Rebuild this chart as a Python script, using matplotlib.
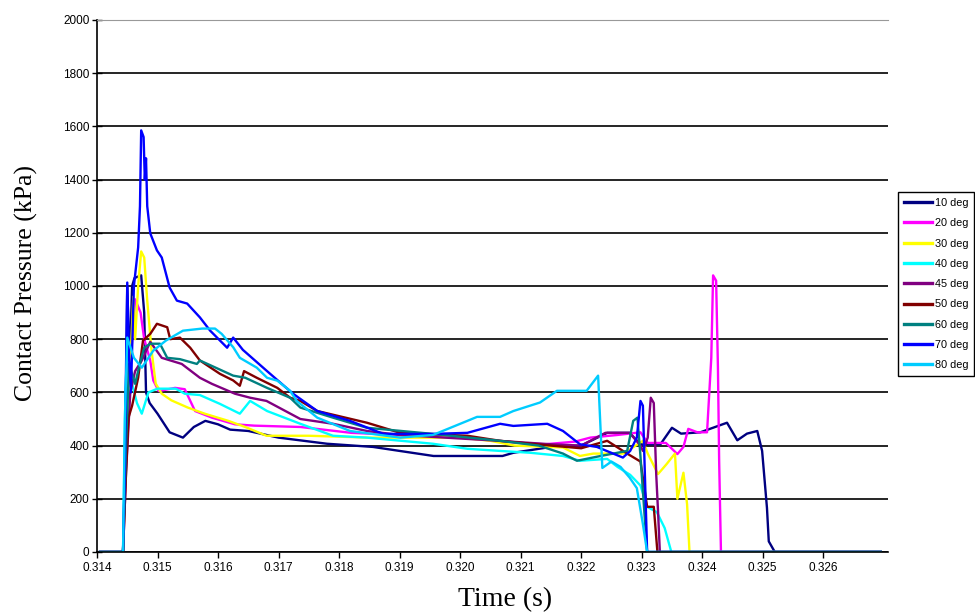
import numpy as np
import matplotlib
matplotlib.use("Agg")
import matplotlib.pyplot as plt
from matplotlib.ticker import FormatStrFormatter

# (time in s, contact pressure in kPa)
deg10 = [(0.31405, 0), (0.31443, 0), (0.31447, 400), (0.31450, 1000), (0.31454, 700),
         (0.31458, 1000), (0.31462, 1030), (0.31473, 1040), (0.31478, 900), (0.31481, 600),
         (0.31487, 560), (0.31500, 520), (0.31520, 450), (0.31542, 430), (0.31560, 470),
         (0.31579, 493), (0.31600, 480), (0.31620, 460), (0.31650, 455), (0.31700, 430),
         (0.31780, 407), (0.31856, 395), (0.31900, 380), (0.31956, 361), (0.32070, 361),
         (0.32088, 373), (0.32150, 395), (0.32200, 400), (0.32243, 448), (0.32280, 448),
         (0.32298, 405), (0.32331, 405), (0.32350, 467), (0.32365, 445), (0.32397, 450),
         (0.32441, 486), (0.32458, 420), (0.32474, 445), (0.32491, 455), (0.32499, 380),
         (0.32507, 166), (0.32510, 40), (0.32520, 0), (0.32695, 0)]
deg20 = [(0.31405, 0), (0.31443, 0), (0.31448, 500), (0.31455, 700), (0.31463, 950),
         (0.31472, 900), (0.31478, 800), (0.31488, 720), (0.31493, 645), (0.31502, 605),
         (0.31529, 617), (0.31545, 612), (0.31562, 530), (0.31590, 505), (0.31628, 480),
         (0.31660, 475), (0.31736, 470), (0.31820, 448), (0.31900, 440), (0.32000, 430),
         (0.32100, 410), (0.32140, 405), (0.32190, 415), (0.32215, 430), (0.32260, 440),
         (0.32298, 450), (0.32310, 410), (0.32340, 410), (0.32359, 368), (0.32369, 395),
         (0.32377, 463), (0.32392, 450), (0.32408, 450), (0.32411, 570), (0.32415, 730),
         (0.32418, 1040), (0.32423, 1020), (0.32426, 693), (0.32428, 343), (0.32431, 0),
         (0.32695, 0)]
deg30 = [(0.31405, 0), (0.31443, 0), (0.31448, 400), (0.31455, 700), (0.31460, 960),
         (0.31463, 800), (0.31468, 1000), (0.31473, 1130), (0.31478, 1107), (0.31483, 945),
         (0.31490, 760), (0.31497, 633), (0.31507, 595), (0.31523, 570), (0.31550, 543),
         (0.31578, 520), (0.31617, 493), (0.31645, 470), (0.31680, 437), (0.31750, 437),
         (0.31850, 430), (0.32000, 430), (0.32050, 418), (0.32090, 400), (0.32170, 393),
         (0.32198, 361), (0.32220, 370), (0.32270, 370), (0.32302, 418), (0.32310, 370),
         (0.32327, 293), (0.32341, 330), (0.32355, 370), (0.32359, 200), (0.32369, 298),
         (0.32375, 180), (0.32379, 0), (0.32695, 0)]
deg40 = [(0.31405, 0), (0.31443, 0), (0.31447, 600), (0.31450, 790), (0.31456, 650),
         (0.31466, 560), (0.31474, 520), (0.31485, 600), (0.31500, 614), (0.31530, 614),
         (0.31545, 595), (0.31570, 590), (0.31603, 557), (0.31636, 520), (0.31653, 568),
         (0.31681, 530), (0.31736, 482), (0.31790, 437), (0.31846, 430), (0.31955, 407),
         (0.32012, 388), (0.32066, 380), (0.32116, 373), (0.32170, 361), (0.32198, 343),
         (0.32243, 350), (0.32260, 320), (0.32281, 290), (0.32298, 250), (0.32309, 170),
         (0.32325, 150), (0.32338, 90), (0.32349, 0), (0.32695, 0)]
deg45 = [(0.31405, 0), (0.31443, 0), (0.31448, 300), (0.31455, 600), (0.31463, 680),
         (0.31474, 720), (0.31488, 790), (0.31507, 730), (0.31540, 707), (0.31570, 655),
         (0.31590, 632), (0.31628, 595), (0.31653, 580), (0.31680, 568), (0.31736, 500),
         (0.31790, 482), (0.31846, 455), (0.31900, 440), (0.32050, 420), (0.32150, 405),
         (0.32200, 400), (0.32240, 448), (0.32280, 448), (0.32298, 400), (0.32302, 380),
         (0.32310, 430), (0.32315, 580), (0.32320, 560), (0.32324, 293), (0.32327, 154),
         (0.32330, 0), (0.32695, 0)]
deg50 = [(0.31405, 0), (0.31443, 0), (0.31448, 300), (0.31452, 505), (0.31458, 550),
         (0.31468, 655), (0.31476, 795), (0.31488, 820), (0.31499, 858), (0.31516, 845),
         (0.31521, 800), (0.31537, 806), (0.31554, 768), (0.31570, 720), (0.31603, 670),
         (0.31625, 645), (0.31636, 625), (0.31643, 680), (0.31664, 655), (0.31698, 617),
         (0.31719, 580), (0.31736, 568), (0.31764, 530), (0.31846, 486), (0.31901, 448),
         (0.32012, 437), (0.32066, 418), (0.32150, 400), (0.32200, 390), (0.32243, 418),
         (0.32276, 370), (0.32298, 340), (0.32309, 170), (0.32320, 170), (0.32326, 0),
         (0.32695, 0)]
deg60 = [(0.31405, 0), (0.31443, 0), (0.31448, 400), (0.31453, 707), (0.31463, 632),
         (0.31470, 700), (0.31478, 768), (0.31488, 783), (0.31504, 783), (0.31516, 730),
         (0.31537, 725), (0.31565, 707), (0.31570, 720), (0.31625, 663), (0.31645, 655),
         (0.31681, 617), (0.31719, 580), (0.31736, 543), (0.31790, 505), (0.31846, 467),
         (0.31955, 444), (0.32066, 418), (0.32130, 400), (0.32170, 370), (0.32193, 343),
         (0.32230, 360), (0.32276, 380), (0.32286, 493), (0.32293, 505), (0.32298, 360),
         (0.32309, 0), (0.32695, 0)]
deg70 = [(0.31405, 0), (0.31443, 0), (0.31446, 300), (0.31448, 700), (0.31450, 1013),
         (0.31453, 730), (0.31456, 600), (0.31461, 1000), (0.31468, 1145), (0.31471, 1300),
         (0.31473, 1585), (0.31477, 1560), (0.31479, 1400), (0.31481, 1480), (0.31483, 1300),
         (0.31488, 1198), (0.31499, 1134), (0.31507, 1107), (0.31520, 994), (0.31532, 945),
         (0.31549, 934), (0.31570, 882), (0.31587, 832), (0.31615, 768), (0.31625, 806),
         (0.31641, 760), (0.31681, 680), (0.31724, 595), (0.31764, 530), (0.31818, 493),
         (0.31873, 444), (0.31955, 444), (0.32012, 448), (0.32066, 482), (0.32088, 474),
         (0.32144, 482), (0.32170, 455), (0.32198, 405), (0.32226, 395), (0.32269, 355),
         (0.32281, 380), (0.32292, 430), (0.32298, 568), (0.32302, 550), (0.32309, 0),
         (0.32695, 0)]
deg80 = [(0.31405, 0), (0.31443, 0), (0.31446, 500), (0.31450, 806), (0.31461, 730),
         (0.31474, 693), (0.31493, 757), (0.31514, 795), (0.31542, 832), (0.31574, 840),
         (0.31595, 840), (0.31606, 820), (0.31625, 770), (0.31636, 730), (0.31664, 693),
         (0.31681, 655), (0.31698, 644), (0.31719, 606), (0.31730, 568), (0.31764, 505),
         (0.31818, 455), (0.31901, 430), (0.31955, 440), (0.32012, 493), (0.32028, 508),
         (0.32066, 508), (0.32088, 530), (0.32132, 562), (0.32160, 606), (0.32181, 606),
         (0.32209, 606), (0.32228, 663), (0.32235, 316), (0.32250, 340), (0.32265, 320),
         (0.32280, 280), (0.32292, 240), (0.32302, 105), (0.32309, 0), (0.32695, 0)]

series = [deg10, deg20, deg30, deg40, deg45, deg50, deg60, deg70, deg80]
labels = ["10 deg", "20 deg", "30 deg", "40 deg", "45 deg", "50 deg", "60 deg", "70 deg", "80 deg"]
colors = ["#000080", "#FF00FF", "#FFFF00", "#00FFFF", "#800080",
          "#800000", "#008080", "#0000FF", "#00CCFF"]

x_ticks = np.arange(0.314, 0.3265, 0.001)
y_ticks = np.arange(0, 2001, 200)

fig = plt.figure(figsize=(9.75, 6.14), dpi=100)
ax = fig.add_axes([97 / 975, 62 / 614, 791 / 975, 532 / 614])

for data, label, color in zip(series, labels, colors):
    t, p = zip(*data)
    ax.plot(t, p, color=color, lw=1.7, label=label)

ax.set_xlim(0.314, 0.32707)
ax.set_ylim(0, 2000)
ax.set_xticks(x_ticks)
ax.set_yticks(y_ticks)
ax.xaxis.set_major_formatter(FormatStrFormatter("%.3f"))
for lbl in ax.get_xticklabels() + ax.get_yticklabels():
    lbl.set_family("Liberation Sans")
    lbl.set_fontsize(8.5)
ax.tick_params(axis="y", direction="inout", length=7, width=1, pad=2)
ax.tick_params(axis="x", direction="out", length=4, width=1, pad=3)

# Excel-style: black horizontal gridlines, no right spine
ax.grid(axis="y", color="black", lw=1.2)
ax.set_axisbelow(True)
ax.spines["right"].set_visible(False)
ax.spines["top"].set_color("#999999")
ax.spines["left"].set_linewidth(1.2)
ax.spines["bottom"].set_linewidth(1.2)

ax.set_ylabel("Contact Pressure (kPa)", family="Liberation Serif", fontsize=18.5)
ax.yaxis.set_label_coords(-0.074, 0.506)
ax.set_xlabel("Time (s)", family="Liberation Serif", fontsize=20)
ax.xaxis.set_label_coords((505 - 97) / 791, -0.066)

leg = ax.legend(loc="upper left", bbox_to_anchor=(898 / 975, 1 - 192 / 614),
                bbox_transform=fig.transFigure, borderaxespad=0,
                prop={"family": "Liberation Sans", "size": 7.8},
                handlelength=2.6, handletextpad=0.25, labelspacing=0.95,
                borderpad=0.55, fancybox=False, framealpha=1)
leg.get_frame().set_edgecolor("black")
leg.get_frame().set_linewidth(1.0)
for line in leg.get_lines():
    line.set_linewidth(2.4)

fig.savefig("out.png", dpi=100)
